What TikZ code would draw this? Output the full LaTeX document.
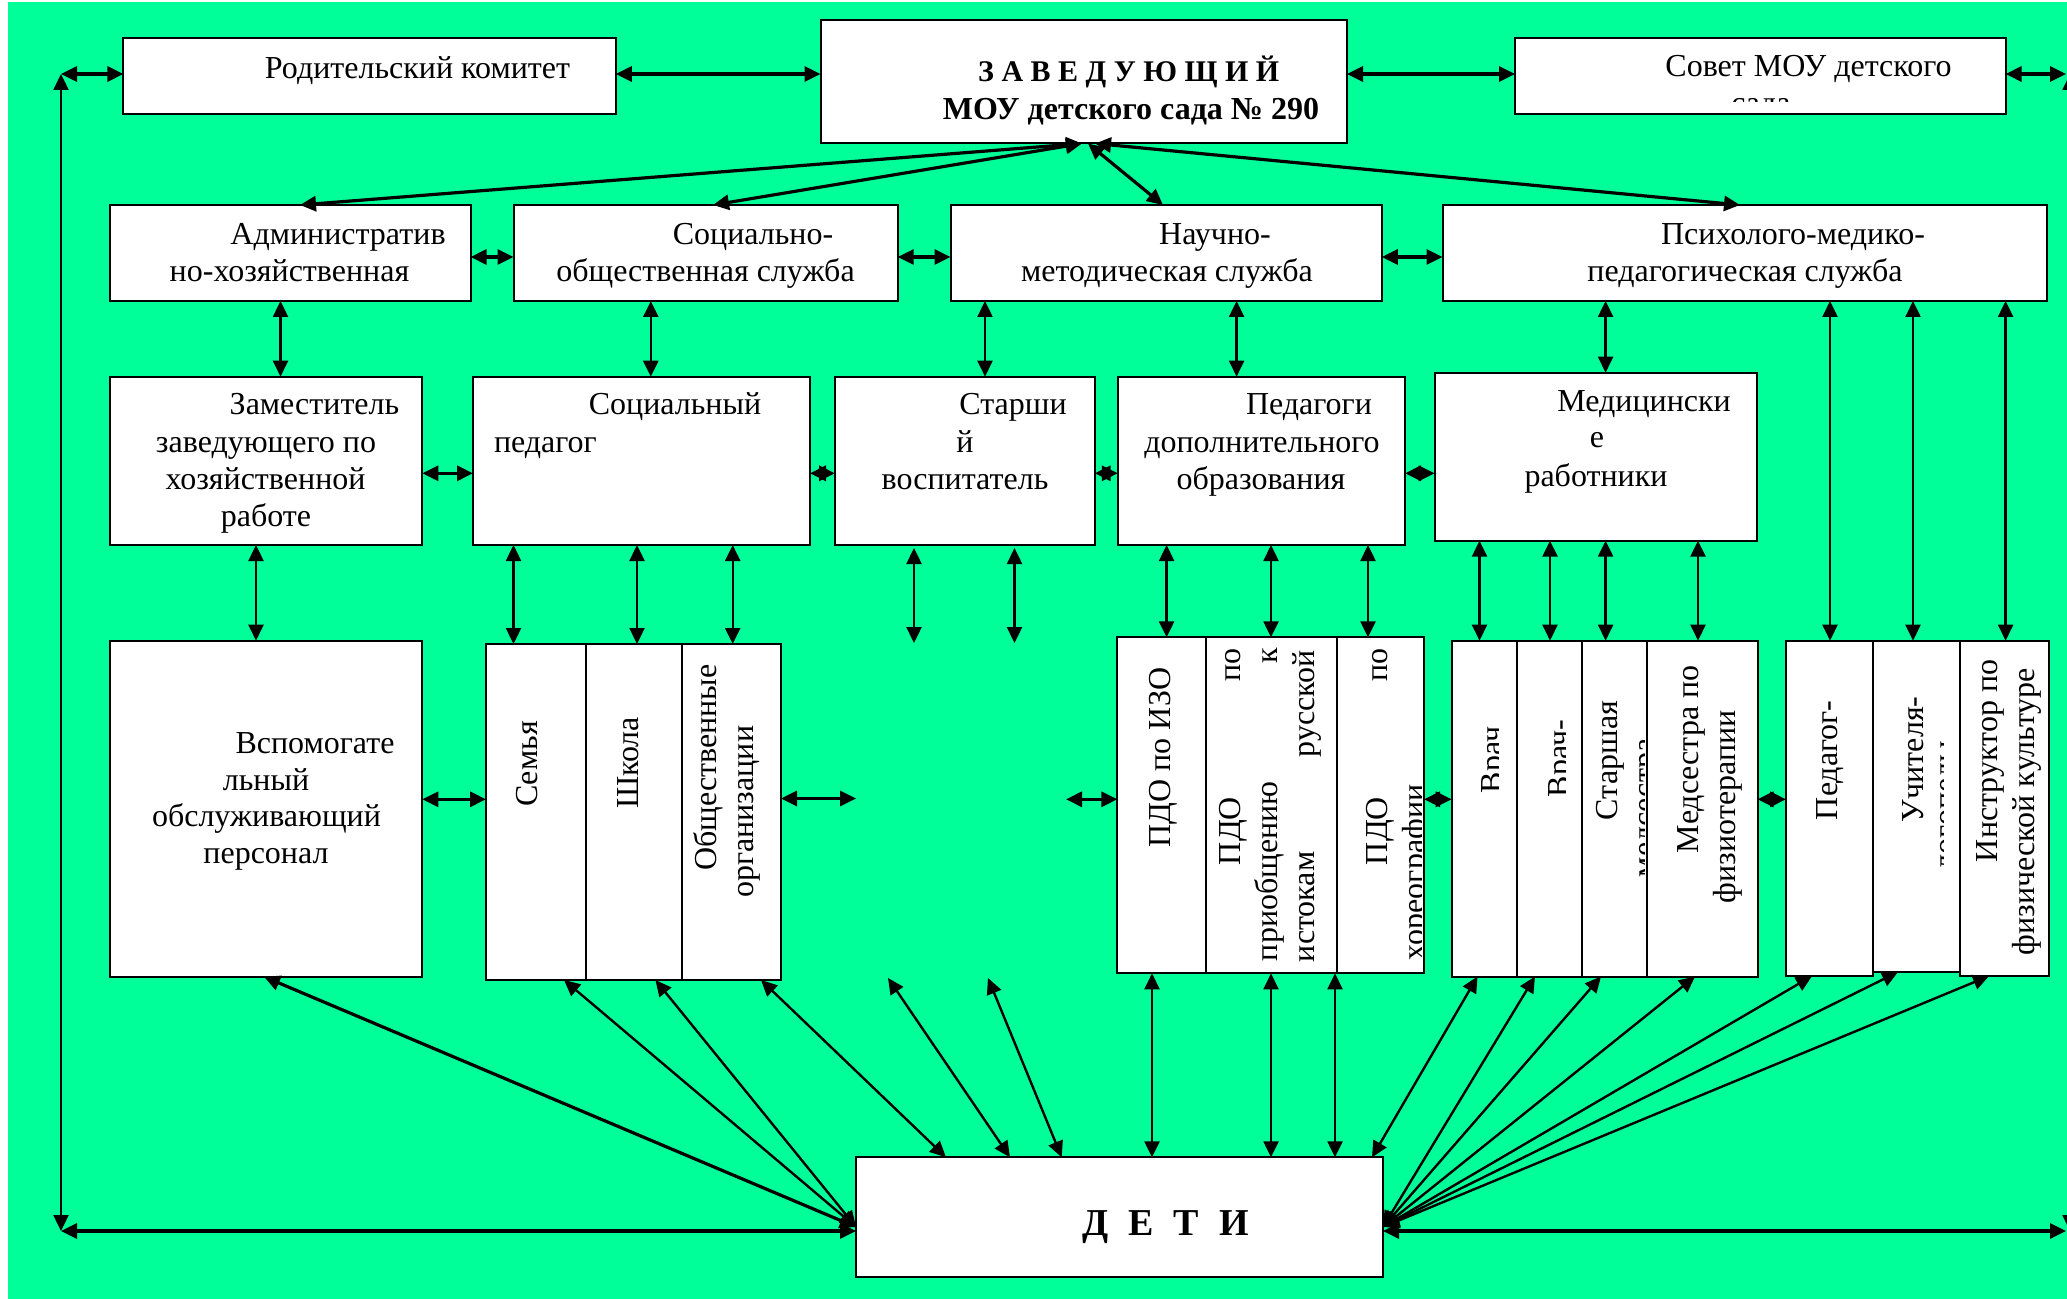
\documentclass[tikz,border=0pt]{standalone}
\usepackage{fontspec}
\setmainfont{Liberation Serif}
\usetikzlibrary{arrows.meta,fit}
\definecolor{bggreen}{RGB}{0,255,153}
\newcommand\mybox[5]{\node[box, fit={(#2,#3)(#4,#5)}] (#1) {};}
\begin{document}
\begin{tikzpicture}[x=0.5pt,y=-0.5pt,
  box/.style={draw=black, line width=1pt, fill=white, inner sep=0pt, outer sep=0pt},
  arr/.style={line width=1.2pt, {Triangle[length=8pt,width=7.5pt]}-{Triangle[length=8pt,width=7.5pt]}},
  thk/.style={line width=1.6pt},
  txt/.style={inner sep=0pt, outer sep=0pt, font=\fontsize{16pt}{18.5pt}\selectfont},
  bt/.style={txt, anchor=base},
  rt/.style={txt, rotate=90},
  ttl/.style={inner sep=0pt, outer sep=0pt, anchor=base, font=\fontsize{15pt}{18pt}\selectfont\bfseries},
  ttlb/.style={inner sep=0pt, outer sep=0pt, anchor=base, font=\fontsize{16pt}{19pt}\selectfont\bfseries},
  dt/.style={inner sep=0pt, outer sep=0pt, anchor=base, font=\fontsize{19pt}{22pt}\selectfont\bfseries}
]
\useasboundingbox (0,0) rectangle (2067,1299);
\fill[white] (0,0) rectangle (2067,1299);
\fill[bggreen] (8,2) rectangle (2067,1299);

% ---------- boxes ----------
\mybox{rod}{123.4}{37.7}{615.8}{113.7}
\mybox{zav}{820.5}{20}{1347}{143.5}
\mybox{sov}{1515}{37.7}{2005.6}{113.7}
\mybox{adm}{110}{205}{470.6}{301}
\mybox{soc}{513.5}{205}{897.7}{301}
\mybox{nau}{950.5}{205}{1381.8}{301}
\mybox{psy}{1442.5}{205}{2046.5}{301}
\mybox{zam}{110}{376.7}{422.4}{545}
\mybox{sped}{473}{376.7}{810}{545}
\mybox{star}{835}{376.7}{1094.7}{545}
\mybox{pedd}{1117.8}{376.7}{1405}{545}
\mybox{med}{1434.6}{372.7}{1757}{540.7}
\mybox{vsp}{110}{640.7}{422.4}{976.7}
\mybox{sem}{486}{644}{585.5}{980}
\mybox{shk}{585.5}{644}{682}{980}
\mybox{obs}{682}{644}{781}{980}
\mybox{pdo1}{1117.3}{637.3}{1205.7}{973.3}
\mybox{pdo2}{1205.7}{637.3}{1336.7}{973.3}
\mybox{pdo3}{1336.7}{637.3}{1424}{973.3}
\mybox{vr1}{1451.7}{640.7}{1517.3}{976.5}
\mybox{vr2}{1517.3}{640.7}{1581.7}{976.5}
\mybox{stm}{1581.7}{640.7}{1647.3}{976.5}
\mybox{mfz}{1647.3}{640.7}{1757.5}{976.5}
\mybox{ped}{1786}{640.7}{1872.7}{976}
\mybox{uch}{1872.7}{640.7}{1960}{972}
\mybox{ins}{1960}{640.7}{2049}{976}
\mybox{deti}{856}{1157.3}{1383}{1276.7}

% ---------- texts ----------
\node[bt] (trod) at (417.5,79) {Родительский комитет};
\node[ttl] (tz1) at (1128.7,81.7) {З А В Е Д У Ю Щ И Й};
\node[ttlb] (tz2) at (1131,120) {МОУ детского сада № 290};
\node[bt] (tsov1) at (1808.5,77) {Совет МОУ детского};
\begin{scope}
\clip (1515,37.7) rectangle (2005.6,102);
\node[bt] (tsov2) at (1761,114) {сада};
\end{scope}

\node[bt] (ta1) at (338,245) {Административ};
\node[bt] (ta2) at (289.5,282) {но-хозяйственная};
\node[bt] (ts1) at (753,245) {Социально-};
\node[bt] (ts2) at (705.5,282) {общественная служба};
\node[bt] (tn1) at (1215,245) {Научно-};
\node[bt] (tn2) at (1167,282) {методическая служба};
\node[bt] (tp1) at (1793,245) {Психолого-медико-};
\node[bt] (tp2) at (1745,282) {педагогическая служба};

\node[bt] (tzm1) at (314.5,415) {Заместитель};
\node[bt] (tzm2) at (266,452.7) {заведующего по};
\node[bt] (tzm3) at (265.5,489) {хозяйственной};
\node[bt] (tzm4) at (266,526.7) {работе};
\node[bt] (tsp1) at (675,415) {Социальный};
\node[txt, anchor=base west] (tsp2) at (494,452.7) {педагог};
\node[bt] (tst1) at (1013,415) {Старши};
\node[bt] (tst2) at (965,452.7) {й};
\node[bt] (tst3) at (965,489) {воспитатель};
\node[bt] (tpd1) at (1309,415) {Педагоги};
\node[bt] (tpd2) at (1262,452.7) {дополнительного};
\node[bt] (tpd3) at (1261,489) {образования};
\node[bt] (tmd1) at (1644,411.7) {Медицински};
\node[bt] (tmd2) at (1597,448) {е};
\node[bt] (tmd3) at (1596,486.7) {работники};

\node[bt] (tv1) at (315,753.3) {Вспомогате};
\node[bt] (tv2) at (266,790) {льный};
\node[bt] (tv3) at (266.5,826.7) {обслуживающий};
\node[bt] (tv4) at (266,863.3) {персонал};

\node[rt, anchor=base] (tsem) at (537,764) {Семья};
\node[rt, anchor=base] (tshk) at (638,763) {Школа};
\node[rt, anchor=base] (tob1) at (716,767.5) {Общественные};
\node[rt, anchor=base] (tob2) at (753,811.7) {организации};

\node[rt, anchor=base] (tizo) at (1170,757.5) {ПДО по ИЗО};
\node[rt, anchor=base west] (tq1) at (1240,865) {ПДО};
\node[rt, anchor=base east] (tq2) at (1240,648) {по};
\node[rt, anchor=base west] (tq3) at (1277,961) {приобщению};
\node[rt, anchor=base east] (tq4) at (1277,648) {к};
\node[rt, anchor=base west] (tq5) at (1314,962) {истокам};
\node[rt, anchor=base east] (tq6) at (1314,650) {русской};
\node[rt, anchor=base west] (tr1) at (1387,865) {ПДО};
\node[rt, anchor=base east] (tr2) at (1387,648) {по};
\begin{scope}
\clip (1336.7,637.3) rectangle (1421,973.3);
\node[rt, anchor=base west] (tr3) at (1424,960) {хореографии};
\end{scope}

\begin{scope}
\clip (1451.7,640.7) rectangle (1498,976.5);
\node[rt, anchor=base west] (tw1) at (1502,793) {Врач};
\end{scope}
\begin{scope}
\clip (1517.3,640.7) rectangle (1565,976.5);
\node[rt, anchor=base west] (tw2) at (1569,797) {Врач-};
\end{scope}
\node[rt, anchor=base west] (tw3) at (1617,820) {Старшая};
\begin{scope}
\clip (1581.7,640.7) rectangle (1644,976.5);
\node[rt, anchor=base west] (tw4) at (1654,877) {медсестра};
\end{scope}
\node[rt, anchor=base west] (tw5) at (1698,853) {Медсестра по};
\node[rt, anchor=base west] (tw6) at (1735,903) {физиотерапии};
\node[rt, anchor=base west] (tg1) at (1837,820) {Педагог-};
\node[rt, anchor=base west] (tg2) at (1923,822) {Учителя-};
\begin{scope}
\clip (1872.7,640.7) rectangle (1943,972);
\node[rt, anchor=base west] (tg3) at (1955,870) {логопеды};
\end{scope}
\node[rt, anchor=base west] (tg4) at (1997,862) {Инструктор по};
\node[rt, anchor=base west] (tg5) at (2034,955) {физической культуре};

\node[dt] (d1) at (1096,1235) {Д};
\node[dt] (d2) at (1141,1235) {Е};
\node[dt] (d3) at (1186,1235) {Т};
\node[dt] (d4) at (1234,1235) {И};

% ---------- free coordinates ----------
\coordinate (lt) at (61,74);
\coordinate (lb) at (61,1231);
\coordinate (rtop) at (2070,74);
\coordinate (rbot) at (2070,1231);
\coordinate (re1) at (2066,74);
\coordinate (re2) at (2066,1231);
\coordinate (ztop) at (1082,143.5);
\coordinate (cl) at (856,1227);
\coordinate (cr) at (1383,1227);
\coordinate (fs1) at (914,548);
\coordinate (fs2) at (914,643);
\coordinate (fs3) at (1014.5,548);
\coordinate (fs4) at (1014.5,643);
\coordinate (fo) at (856,798.5);
\coordinate (fp) at (1066,799.3);
\coordinate (fd1) at (888,978);
\coordinate (fd2) at (988,978);

% ---------- connectors ----------
\draw[arr] (lt) -- (lb);
\draw[arr,thk] (lt) -- (lt -| rod.west);
\draw[arr,thk] (lb) -- (lb -| deti.west);
\draw[arr] (rtop) -- (rbot);
\draw[arr,thk] (rod.east |- lt) -- (zav.west |- lt);
\draw[arr,thk] (zav.east |- lt) -- (sov.west |- lt);
\draw[arr,thk] (sov.east |- lt) -- (re1);
\draw[arr,thk] (deti.east |- lb) -- (re2);

\draw[arr,thk] (ztop) -- (300,0 |- adm.north);
\draw[arr,thk] (ztop) -- (713,0 |- soc.north);
\draw[arr,thk] (1088,143.5) -- (1163,0 |- nau.north);
\draw[arr,thk] (1095,143.5) -- (1740,0 |- psy.north);

\draw[arr,thk] (adm.east |- 0,257) -- (soc.west |- 0,257);
\draw[arr,thk] (soc.east |- 0,257) -- (nau.west |- 0,257);
\draw[arr,thk] (nau.east |- 0,257) -- (psy.west |- 0,257);

\draw[arr] (280.5,0 |- adm.south) -- (280.5,0 |- zam.north);
\draw[arr] (650.8,0 |- soc.south) -- (650.8,0 |- sped.north);
\draw[arr] (985,0 |- nau.south) -- (985,0 |- star.north);
\draw[arr] (1236.6,0 |- nau.south) -- (1236.6,0 |- pedd.north);
\draw[arr] (1605.6,0 |- psy.south) -- (1605.6,0 |- med.north);
\draw[arr] (1830,0 |- psy.south) -- (1830,0 |- ped.north);
\draw[arr] (1913,0 |- psy.south) -- (1913,0 |- uch.north);
\draw[arr] (2005.6,0 |- psy.south) -- (2005.6,0 |- ins.north);

\draw[arr,thk] (zam.east |- 0,473.3) -- (sped.west |- 0,473.3);
\draw[arr,thk] (sped.east |- 0,473.3) -- (star.west |- 0,473.3);
\draw[arr,thk] (star.east |- 0,473.3) -- (pedd.west |- 0,473.3);
\draw[arr,thk] (pedd.east |- 0,473.3) -- (med.west |- 0,473.3);

\draw[arr] (256,0 |- zam.south) -- (256,0 |- vsp.north);
\draw[arr] (513.5,0 |- sped.south) -- (513.5,0 |- sem.north);
\draw[arr] (637,0 |- sped.south) -- (637,0 |- shk.north);
\draw[arr] (732.7,0 |- sped.south) -- (732.7,0 |- obs.north);
\draw[arr] (fs1) -- (fs2);
\draw[arr] (fs3) -- (fs4);
\draw[arr] (1166.6,0 |- pedd.south) -- (1166.6,0 |- pdo1.north);
\draw[arr] (1271,0 |- pedd.south) -- (1271,0 |- pdo2.north);
\draw[arr] (1368,0 |- pedd.south) -- (1368,0 |- pdo3.north);
\draw[arr] (1479.5,0 |- med.south) -- (1479.5,0 |- vr1.north);
\draw[arr] (1550,0 |- med.south) -- (1550,0 |- vr2.north);
\draw[arr] (1605.6,0 |- med.south) -- (1605.6,0 |- stm.north);
\draw[arr] (1698,0 |- med.south) -- (1698,0 |- mfz.north);

\draw[arr,thk] (vsp.east |- 0,799.3) -- (sem.west |- 0,799.3);
\draw[arr,thk] (obs.east |- fo) -- (fo);
\draw[arr,thk] (fp) -- (pdo1.west |- fp);
\draw[arr,thk] (pdo3.east |- 0,799.3) -- (vr1.west |- 0,799.3);
\draw[arr,thk] (mfz.east |- 0,799.3) -- (ped.west |- 0,799.3);

\draw[arr,thk] (cl) -- (264,0 |- vsp.south);
\draw[arr] (cl) -- (564,0 |- sem.south);
\draw[arr] (cl) -- (655.4,0 |- shk.south);
\draw[arr] (761,0 |- obs.south) -- (946,0 |- deti.north);
\draw[arr] (fd1) -- (1010,0 |- deti.north);
\draw[arr] (fd2) -- (1061.7,0 |- deti.north);
\draw[arr] (1152,0 |- pdo1.south) -- (1152,0 |- deti.north);
\draw[arr] (1271,0 |- pdo2.south) -- (1271,0 |- deti.north);
\draw[arr] (1335,0 |- pdo3.south) -- (1335,0 |- deti.north);
\draw[arr] (1477.5,0 |- vr1.south) -- (1372,0 |- deti.north);
\draw[arr] (cr) -- (1535,0 |- vr2.south);
\draw[arr] (cr) -- (1601,0 |- stm.south);
\draw[arr] (cr) -- (1695,0 |- mfz.south);
\draw[arr] (cr) -- (1812,0 |- ped.south);
\draw[arr] (cr) -- (1898,0 |- uch.south);
\draw[arr] (cr) -- (1989,0 |- ins.south);
\end{tikzpicture}
\end{document}
